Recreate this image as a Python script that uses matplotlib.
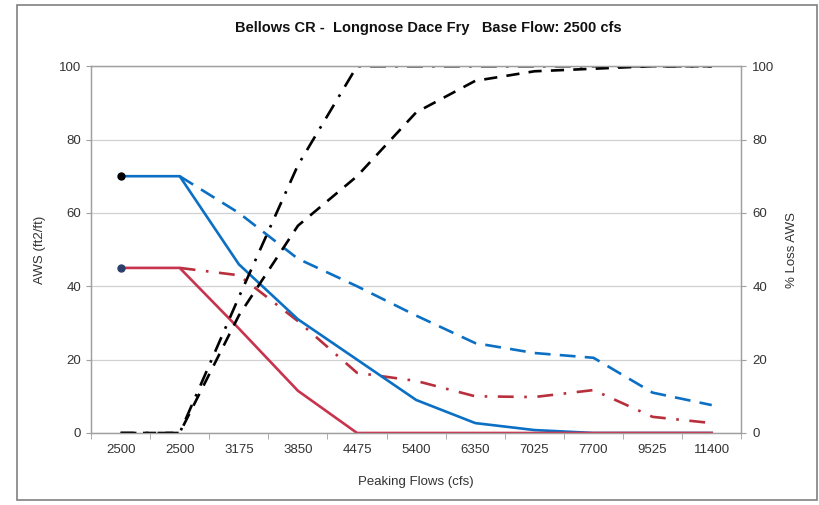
import matplotlib
matplotlib.use('Agg')
import matplotlib.pyplot as plt
from matplotlib.patches import Rectangle
import numpy as np

plt.rcParams['font.family'] = ['Liberation Sans Narrow', 'Liberation Sans', 'DejaVu Sans']

# Data
flows = ['2500', '2500', '3175', '3850', '4475', '5400', '6350', '7025', '7700', '9525', '11400']

# AWS (left axis)
aws_blue = [70, 70, 46, 31, 20, 9, 2.7, 0.8, 0, 0, 0]
aws_blue_dash = [None, 70, 60, 47.5, 40, 32, 24.5, 21.8, 20.5, 11, 7.6]
aws_red = [45, 45, 28.5, 11.5, 0, 0, 0, 0, 0, 0, 0]
aws_red_dashdot = [None, 45, 43, 30.5, 16.4, 14.2, 10, 9.8, 11.7, 4.4, 2.7]

# % loss AWS (right axis)
loss_dashdot = [0, 0, 37, 73, 100, 100, 100, 100, 100, 100, 100]
loss_dash = [0, 0, 32, 56.5, 70, 87.4, 96, 98.6, 99.3, 100, 100]

x = np.arange(len(flows))

def arr(v):
    return np.array([np.nan if a is None else a for a in v], dtype=float)

fig = plt.figure(figsize=(8.2, 5.05), dpi=100)
ax = fig.add_axes([0.111, 0.1426, 0.793, 0.7264])
ax2 = ax.twinx()

blue = '#0B6FC4'
red = '#C8334E'
red2 = '#B8303C'
lw = 1.9

ax.plot(x, arr(aws_blue_dash), color=blue, lw=lw, dashes=(6, 3.5), zorder=3)
ax.plot(x, arr(aws_red_dashdot), color=red2, lw=lw, dashes=(6, 4, 1, 4), zorder=3)
ax.plot(x, arr(aws_blue), color=blue, lw=lw, zorder=4)
ax.plot(x, arr(aws_red), color=red, lw=lw, zorder=4)
# starting points
ax.plot(x[0], aws_blue[0], 'o', color='black', ms=5, zorder=5)
ax.plot(x[0], aws_red[0], 'o', color='#2A3F6B', ms=5, zorder=5)

ax2.plot(x, loss_dashdot, color='black', lw=lw, dashes=(6, 3.5, 1, 3.5))
ax2.plot(x, loss_dash, color='black', lw=lw, dashes=(5, 3.5))

# axes setup
for a in (ax, ax2):
    a.set_ylim(0, 100)
    a.set_yticks([0, 20, 40, 60, 80, 100])
    a.set_xlim(-0.5, len(flows) - 0.5)
    for s in a.spines.values():
        s.set_color('#A0A0A0')
        s.set_linewidth(0.9)
ax.grid(axis='y', color='#D0D0D0', lw=0.9)
ax.set_axisbelow(True)

ax.set_xticks(x)
ax.set_xticklabels(flows)
ax.set_xticks(np.arange(-0.5, len(flows)), minor=True)
ax.tick_params(axis='x', which='major', length=0, pad=8, labelsize=9.5, labelcolor='#333333')
ax.tick_params(axis='x', which='minor', length=4, color='#A0A0A0', direction='out')
ax.tick_params(axis='y', length=3.5, color='#A0A0A0', labelsize=9.5, labelcolor='#333333', pad=3.5)
ax2.tick_params(axis='y', length=3.5, color='#A0A0A0', labelsize=9.5, labelcolor='#333333', pad=4.5)

ax.set_ylabel('AWS (ft2/ft)', fontsize=9.5, color='#333333', labelpad=9.5)
ax2.set_ylabel('% Loss AWS', fontsize=9.5, color='#333333', labelpad=8.5)
ax.set_xlabel('Peaking Flows (cfs)', fontsize=9.5, color='#333333', labelpad=14)

fig.text(0.522, 0.945, 'Bellows CR -  Longnose Dace Fry   Base Flow: 2500 cfs',
         ha='center', va='center', fontsize=10.5, fontweight='bold', color='#111111')

# chart border
fig.patches.append(Rectangle((0.021, 0.01), 0.975, 0.98, transform=fig.transFigure,
                             fill=False, edgecolor='#808080', lw=1.2))

fig.savefig('out.png', dpi=100)
